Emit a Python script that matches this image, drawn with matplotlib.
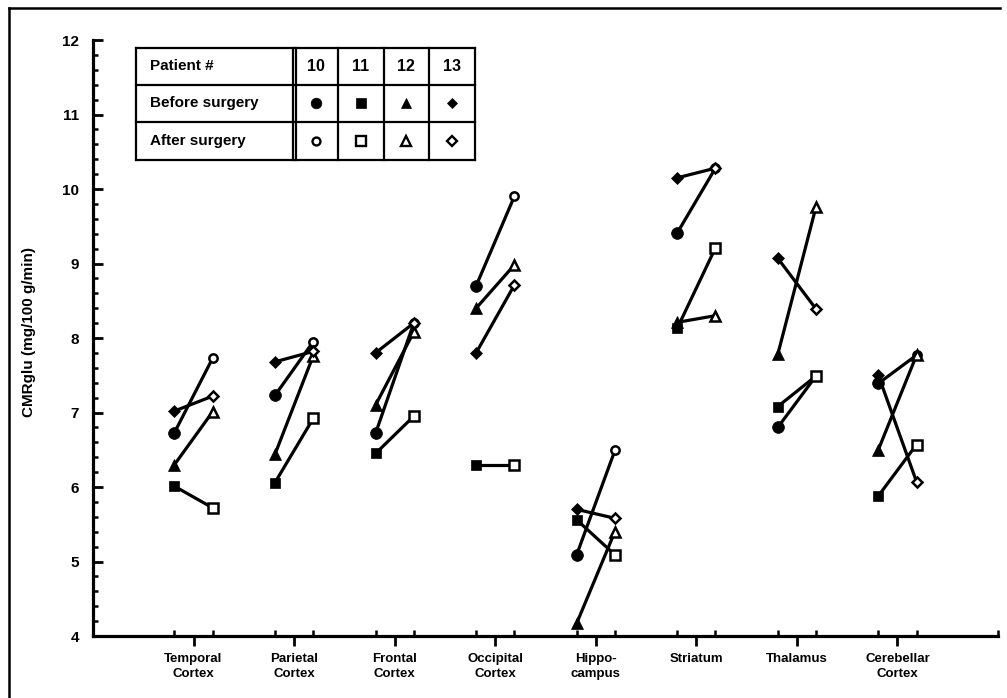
import matplotlib
matplotlib.use("Agg")
import matplotlib.pyplot as plt
from matplotlib.lines import Line2D
import numpy as np

plt.rcParams['font.family'] = ['Liberation Sans', 'DejaVu Sans']
plt.rcParams['font.weight'] = 'bold'

regions = ["Temporal\nCortex", "Parietal\nCortex", "Frontal\nCortex", "Occipital\nCortex",
           "Hippo-\ncampus", "Striatum", "Thalamus", "Cerebellar\nCortex"]

patients = ["10", "11", "12", "13"]

p10_before = [6.73, 7.23, 6.72, 8.70, 5.09, 9.41, 6.80, 7.39]
p10_after = [7.73, 7.95, 8.20, 9.90, 6.49, 10.28, 7.49, 7.77]
p11_before = [6.01, 6.06, 6.45, 6.30, 5.56, 8.13, 7.08, 5.88]
p11_after = [5.72, 6.92, 6.95, 6.30, 5.09, 9.21, 7.49, 6.57]
p12_before = [6.30, 6.44, 7.10, 8.40, 4.17, 8.21, 7.78, 6.50]
p12_after = [7.01, 7.76, 8.08, 8.98, 5.40, 8.30, 9.76, 7.77]
p13_before = [7.02, 7.68, 7.80, 7.80, 5.70, 10.15, 9.07, 7.50]
p13_after = [7.22, 7.82, 8.20, 8.71, 5.58, 10.28, 8.39, 6.07]

before = [p10_before, p11_before, p12_before, p13_before]
after = [p10_after, p11_after, p12_after, p13_after]

markers = ['o', 's', '^', 'D']
ms_before = [8.5, 7.5, 8.5, 6.0]
ms_after = [6.0, 7.0, 7.0, 5.0]

W, H = 1007, 698
fig = plt.figure(figsize=(W / 100, H / 100), dpi=100)
ax = fig.add_axes([93 / W, 1 - 636 / H, (998 - 93) / W, (636 - 40) / H])

off = 0.19
xc = np.arange(1, len(regions) + 1)
lw = 2.3

for pb, pa in zip(before, after):
    for i in range(len(regions)):
        ax.plot([xc[i] - off, xc[i] + off], [pb[i], pa[i]], color='black', lw=lw,
                solid_capstyle='butt', zorder=2)
for pb, pa, mk, mb, ma in zip(before, after, markers, ms_before, ms_after):
    ax.plot(xc - off, pb, linestyle='none', marker=mk, ms=mb, mfc='black', mec='black',
            mew=0.5, zorder=4, clip_on=False)
    ax.plot(xc + off, pa, linestyle='none', marker=mk, ms=ma, mfc='white', mec='black',
            mew=1.8, zorder=4, clip_on=False)

ax.set_xlim(0, 9)
ax.set_ylim(4, 12)

for s in ['top', 'right']:
    ax.spines[s].set_visible(False)
for s in ['left', 'bottom']:
    ax.spines[s].set_linewidth(2.3)

ax.set_yticks(np.arange(4, 13, 1))
ax.set_yticks(np.arange(4, 12.01, 0.2), minor=True)
ax.set_yticklabels([str(v) for v in range(4, 13)], fontsize=11, fontweight='bold')
ax.tick_params(axis='y', which='major', direction='in', length=7, width=2, pad=10)
ax.tick_params(axis='y', which='minor', direction='in', length=3.5, width=1.8)

ax.set_xticks(xc)
ax.set_xticklabels(regions, fontsize=9.5, fontweight='bold', linespacing=1.4)
minor_x = sorted(list(xc - off) + list(xc + off) + [9.0])
ax.set_xticks(minor_x, minor=True)
ax.tick_params(axis='x', which='major', direction='out', length=7, width=2, pad=5)
ax.tick_params(axis='x', which='minor', direction='in', length=4, width=1.8)

ax.set_ylabel("CMRglu (mg/100 g/min)", fontsize=11, fontweight='bold')
ax.yaxis.set_label_coords(-0.063, 0.51)

# legend table (in data coordinates)
tl, tr = 0.43, 3.80
rows = [11.89, 11.40, 10.90, 10.39]
cols = [tl, 1.99, 2.44, 2.89, 3.34, tr]
tkw = dict(color='black', lw=1.6, clip_on=False, zorder=5)
for y in rows:
    ax.plot([tl, tr], [y, y], **tkw)
for c in cols:
    ax.plot([c, c], [rows[0], rows[-1]], **tkw)
ax.plot([1.99 + 0.03, 1.99 + 0.03], [rows[0], rows[-1]], **tkw)
row_txt = ["Patient #", "Before surgery", "After surgery"]
for r, txt in enumerate(row_txt):
    yc = (rows[r] + rows[r + 1]) / 2
    ax.text(tl + 0.14, yc, txt, ha='left', va='center', fontsize=11, fontweight='bold', zorder=6)
for j, p in enumerate(patients):
    xm = (cols[j + 1] + cols[j + 2]) / 2
    ax.text(xm, (rows[0] + rows[1]) / 2, p, ha='center', va='center', fontsize=11.5,
            fontweight='bold', zorder=6)
    ax.plot([xm], [(rows[1] + rows[2]) / 2], marker=markers[j], ms=ms_before[j] * 0.9,
            mfc='black', mec='black', mew=0.5, linestyle='none', zorder=6, clip_on=False)
    ax.plot([xm], [(rows[2] + rows[3]) / 2], marker=markers[j], ms=ms_after[j] * 0.95,
            mfc='white', mec='black', mew=1.7, linestyle='none', zorder=6, clip_on=False)

# figure frame
fig.add_artist(Line2D([9 / W, 9 / W], [0, 1 - 8 / H], color='black', lw=1.8))
fig.add_artist(Line2D([9 / W, 1000 / W], [1 - 8 / H, 1 - 8 / H], color='black', lw=1.8))

fig.savefig("out.png", dpi=100)
